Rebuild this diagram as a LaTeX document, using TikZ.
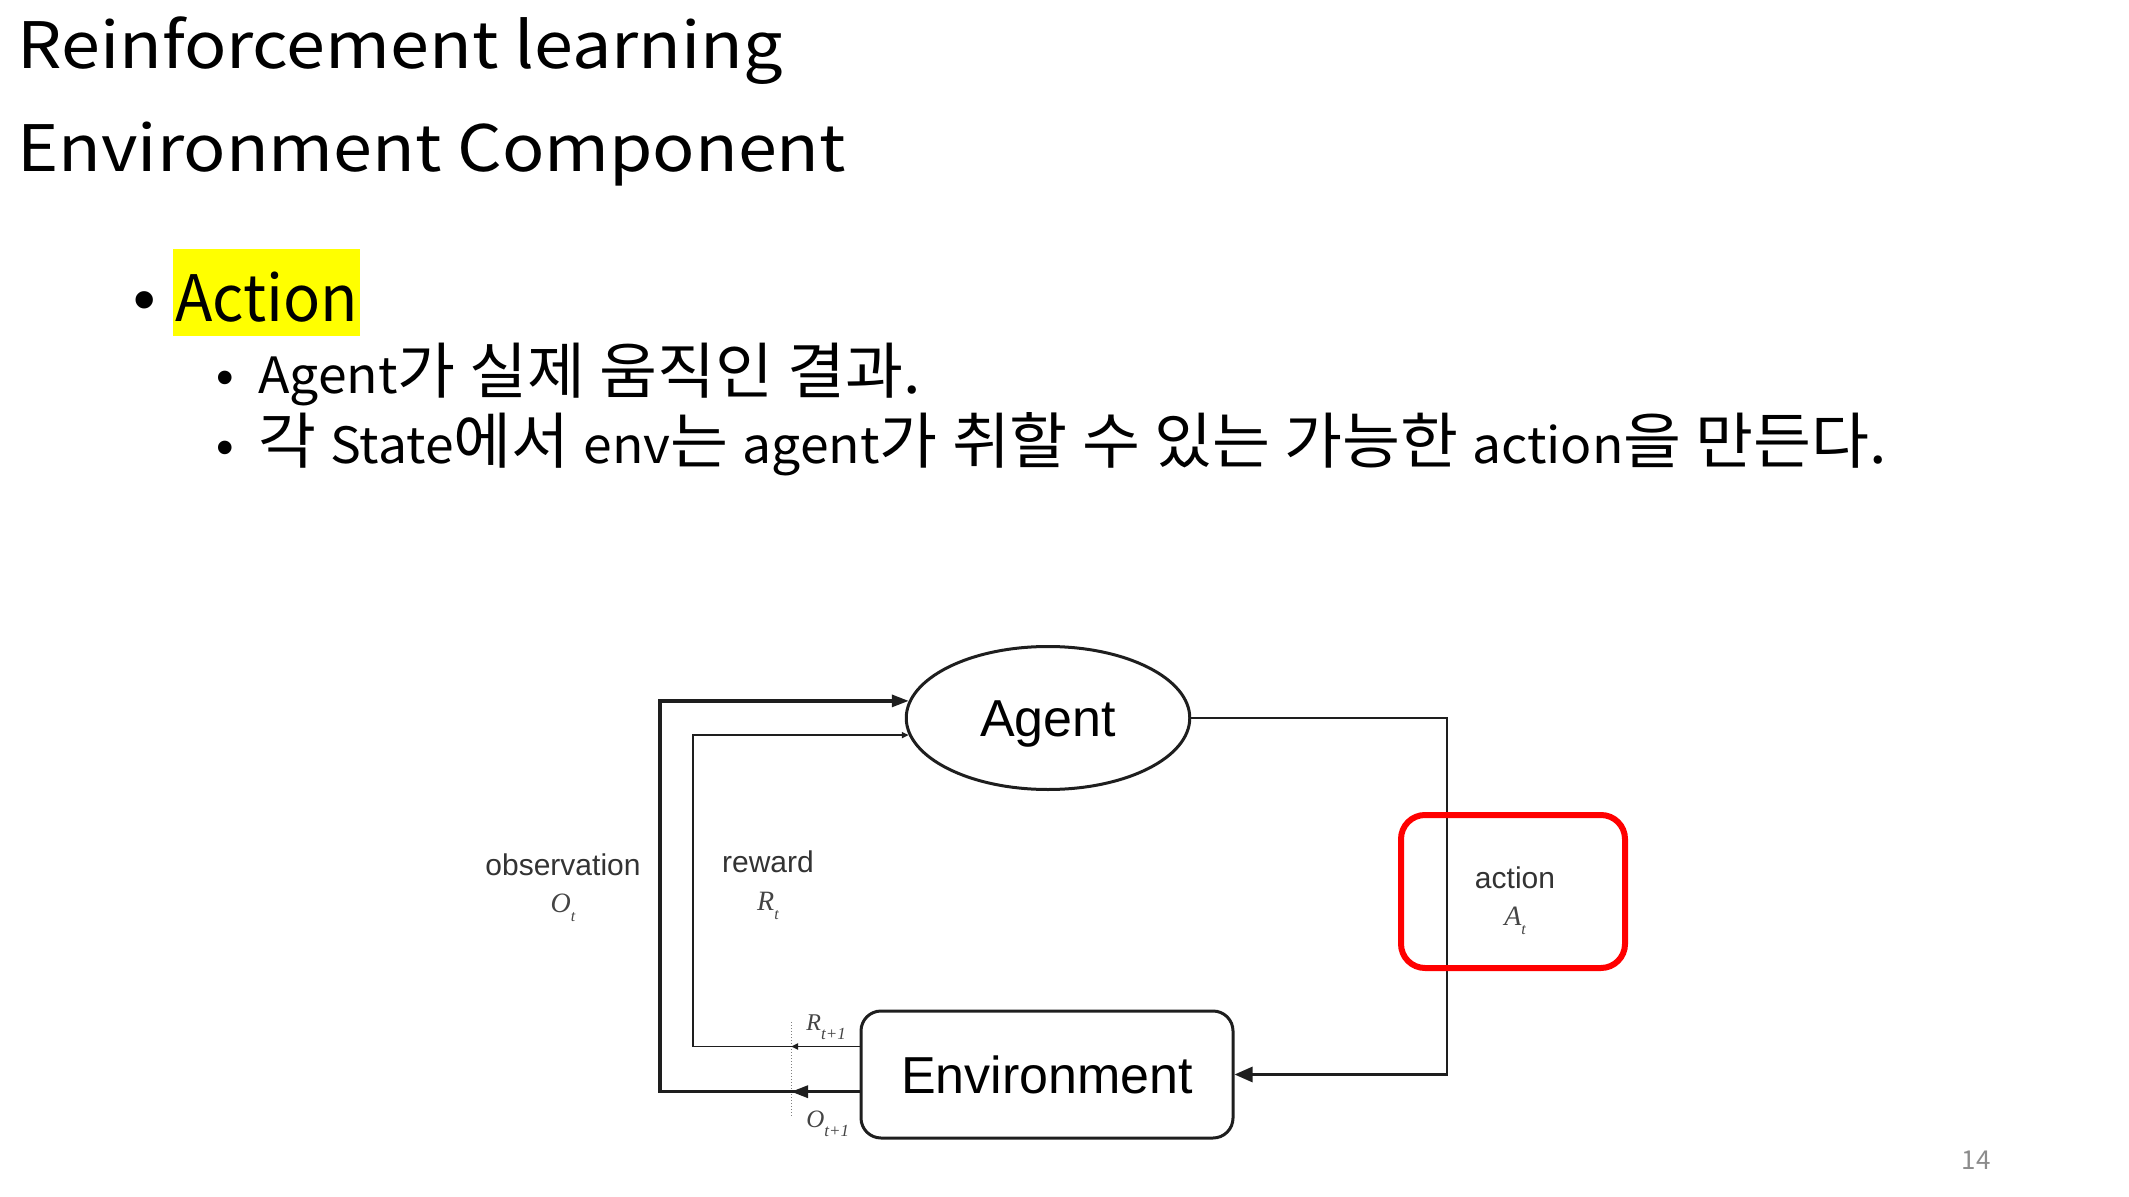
\documentclass[tikz,border=0pt]{standalone}
\usepackage{fontspec}
\usepackage{graphicx}
\setmainfont{Noto Sans CJK KR}
\newfontfamily\arialfont{Liberation Sans}
\newfontfamily\timesfont{Liberation Serif}
\usepackage{tikz}
\usetikzlibrary{
  arrows.meta,
  positioning,
  shapes.geometric
}
\usepackage{xcolor}
\definecolor{slidered}{HTML}{FF0000}
\definecolor{slideyellow}{HTML}{FFFF00}
\definecolor{rlline}{HTML}{1E1E1E}
\definecolor{rltext}{HTML}{333333}
\definecolor{rlsym}{HTML}{444444}
\definecolor{pagegray}{HTML}{8C8C8C}
% italic symbol with a low subscript
\newcommand{\rlvar}[4]{{\timesfont\itshape\fontsize{#3}{#3}\selectfont #1\raisebox{-4.5pt}{\fontsize{#4}{#4}\selectfont #2}}}
% hangul runs are set larger
\newcommand{\hg}[1]{{\fontsize{30.5}{36}\selectfont #1}}

\begin{document}
\begin{tikzpicture}[
  x=0.5pt, y=-0.5pt,
  heading/.style={anchor=base west, inner sep=0pt, font=\fontsize{32}{38}\selectfont},
  subitem/.style={anchor=base west, inner sep=0pt, font=\fontsize{25}{30}\selectfont},
  bulletmark/.style={anchor=base, inner sep=0pt, font=\arialfont#1},
  agentnode/.style={ellipse, draw=rlline, line width=1.5pt, minimum width=141.75pt,
    minimum height=71.5pt, inner sep=0pt, text height=18.6pt, text depth=0pt,
    font=\arialfont\fontsize{26}{30}\selectfont},
  envnode/.style={rectangle, draw=rlline, line width=1.5pt, rounded corners=10pt,
    minimum width=186pt, minimum height=63.5pt, inner sep=0pt, text height=18.6pt,
    text depth=0pt, font=\arialfont\fontsize{26}{30}\selectfont},
  siglabel/.style={anchor=base, inner sep=0pt, text=rltext, font=\arialfont\fontsize{15}{18}\selectfont},
  symlabel/.style={inner sep=0pt, text=rlsym},
  obsline/.style={draw=rlline, line width=1.6pt},
  rewline/.style={draw=rlline, line width=0.9pt},
  actline/.style={draw=rlline, line width=1.4pt},
  bigtip/.style={-{Triangle[length=8.5pt,width=6pt]}},
  smalltip/.style={-{Triangle[length=3.5pt,width=3pt]}},
  acttip/.style={-{Triangle[length=9pt,width=7.5pt]}},
  cutline/.style={draw=gray, line width=0.5pt, densely dotted},
  redframe/.style={draw=slidered, line width=3pt, rounded corners=12pt,
    minimum width=112pt, minimum height=76.5pt, inner sep=0pt}
]
  \useasboundingbox (0,0) rectangle (2129,1197);

  % slide text
  \node[heading] (title1) at (17,68.3) {\scalebox{1.095}[1]{Reinforcement learning}};
  \node[heading] (title2) at (17,171.7) {\scalebox{1.095}[1]{Environment Component}};

  \node[bulletmark=\fontsize{32}{38}\selectfont] (bul1) at (145,322) {•};
  \node[heading, fill=slideyellow, inner xsep=1pt, text height=36.5pt, text depth=7pt]
    (action) at (173,321.7) {\scalebox{0.96}[1]{Action}};

  \node[bulletmark=\fontsize{25}{30}\selectfont] (bul2) at (225,395) {•};
  \node[subitem] (item1) at (258,393.3) {\scalebox{1.033}[1]{Agent\hg{가 실제 움직인 결과.}}};
  \node[bulletmark=\fontsize{25}{30}\selectfont] (bul3) at (225,465) {•};
  \node[subitem] (item2) at (258,463.5)
    {\scalebox{1.033}[1]{\hg{각 }State\hg{에서 }env\hg{는 }agent\hg{가 취할 수 있는 가능한 }action\hg{을 만든다.}}};

  % diagram
  \node[agentnode] (agent) at (1048,718) {Agent};
  \node[envnode] (env) at (1047,1074.5) {Environment};

  \coordinate (obsx) at (660,0);
  \coordinate (rewx) at (692.7,0);
  \coordinate (actx) at (1447,0);
  \coordinate (cuttop) at (791,1022);
  \coordinate (cutbot) at (791,1117);
  \coordinate (ostart) at ([yshift=-8.6pt]env.west);
  \coordinate (rstart) at ([yshift=14pt]env.west);

  \draw[cutline] (cuttop) -- (cutbot);

  \draw[obsline, bigtip] (ostart) -- (ostart -| obsx) |- (agent.173);
  \draw[obsline, bigtip] (ostart) -- (ostart -| cuttop);
  \draw[rewline, smalltip] (rstart) -- (rstart -| rewx) |- (agent.187);
  \draw[rewline, smalltip] (rstart) -- (rstart -| cuttop);
  \draw[actline, acttip] (agent.east) -- (agent.east -| actx) |- (env.east);

  \node[siglabel] (obslabel) at (563,875) {observation};
  \node[symlabel, anchor=base] (ot) at (563,912) {\rlvar{O}{t}{14}{8}};
  \node[siglabel] (rewlabel) at (768,872) {reward};
  \node[symlabel, anchor=base] (rt) at (768,910) {\rlvar{R}{t}{14}{8}};
  \node[siglabel] (actlabel) at (1515,888) {action};
  \node[symlabel, anchor=base] (at) at (1515,925) {\rlvar{A}{t}{14}{8}};
  \node[symlabel, anchor=base west] (rnext) at (806,1030) {\rlvar{R}{t+1}{12}{8.5}};
  \node[symlabel, anchor=base west] (onext) at (806,1127) {\rlvar{O}{t+1}{12.5}{8.5}};

  \node[redframe] (actframe) at (1513,891.5) {};

  \node[anchor=base east, inner sep=0pt, text=pagegray, font=\fontsize{13}{15}\selectfont]
    (pagenum) at (1991,1169) {14};
\end{tikzpicture}
\end{document}
